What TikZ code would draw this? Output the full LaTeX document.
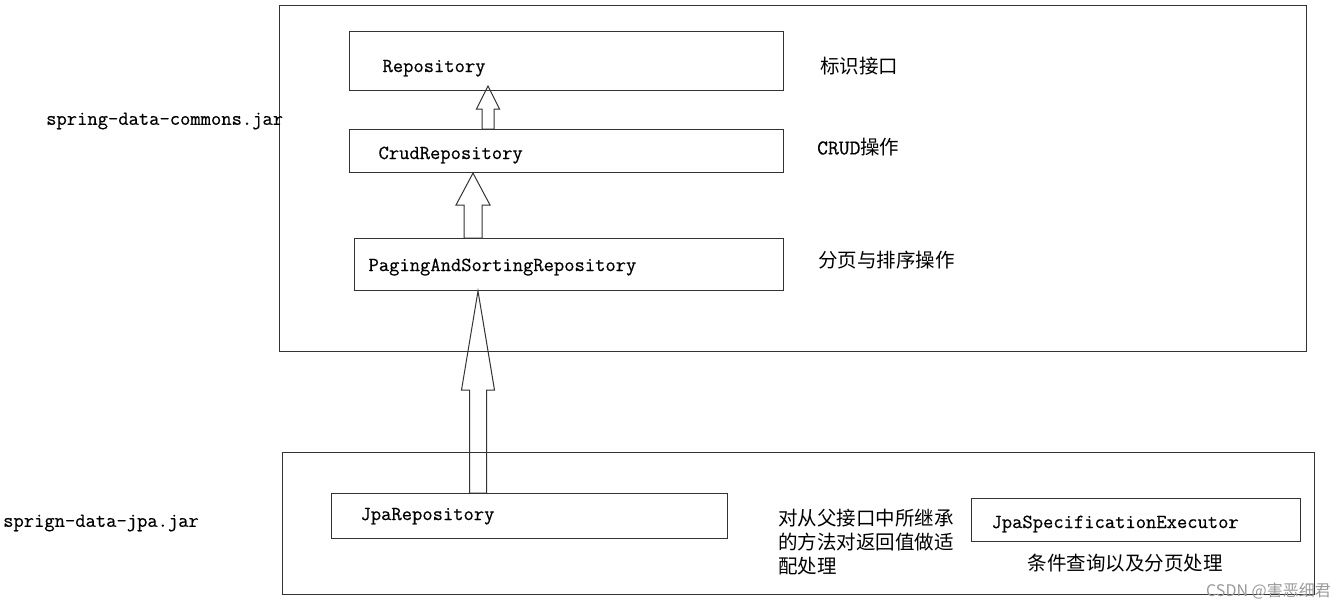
\documentclass[tikz,border=0pt]{standalone}
\usepackage{fontspec}
\newfontfamily\cjkfont{Noto Sans CJK SC}
\newfontfamily\codefont[FakeBold=0.5]{Latin Modern Mono}
\usetikzlibrary{calc}

\tikzset{
  jarbox/.style={draw=black!80, line width=1.1pt, anchor=north west, inner sep=0pt},
  ifacebox/.style={draw=black!80, line width=1.1pt, anchor=north west, align=left, inner ysep=0pt, text depth=0pt, font=\codefont\fontsize{20}{20}\selectfont},
  note/.style={anchor=west, inner sep=0pt, font=\cjkfont\fontsize{19.5}{24}\selectfont},
  jarlabel/.style={anchor=west, inner sep=0pt, font=\codefont\fontsize{20}{20}\selectfont},
  hollow/.style={draw=black!80, line width=1pt, line join=miter},
}

\begin{document}
\begin{tikzpicture}[x=1pt, y=-1pt]
      \useasboundingbox (0,0) rectangle (1341,610);
      % the two jars
      \node (commons) [jarbox, minimum width=1027pt, minimum height=346pt] at (279,5) {};
      \node (jpajarbox) [jarbox, minimum width=1032pt, minimum height=142pt] at (282,452) {};
      \node (commonsjar) [jarlabel] at (46,121) {spring-data-commons.jar};
      \node (jpajar) [jarlabel] at (3,523) {sprign-data-jpa.jar};
      % interfaces
      \node (repo) [ifacebox, minimum height=59pt, text width=368pt, inner xsep=33pt, text height=22pt] at (349,31) {Repository};
      \node (crud) [ifacebox, minimum height=43pt, text width=376pt, inner xsep=29pt, text height=16pt] at (349,129) {CrudRepository};
      \node (paging) [ifacebox, minimum height=52pt, text width=401pt, inner xsep=14pt, text height=13pt] at (354,238) {PagingAndSortingRepository};
      \node (jpa) [ifacebox, minimum height=45pt, text width=338pt, inner xsep=29pt, text height=8pt] at (331,493) {JpaRepository};
      \node (spec) [ifacebox, minimum height=43pt, text width=289pt, inner xsep=20pt, text height=16pt] at (971,498) {JpaSpecificationExecutor};
      % notes
      \node (tagnote) [note] at (820,66) {标识接口};
      \node (crudnote) [note] at (817,147) {{\codefont\fontsize{21}{21}\selectfont CRUD}操作};
      \node (pagenote) [note] at (818,260) {分页与排序操作};
      \node (jpanote) [note, align=left] at (778,542) {对从父接口中所继承\\的方法对返回值做适\\配处理};
      \node (specnote) [note, anchor=center] at (1125,563) {条件查询以及分页处理};
      \node (mark) [anchor=east, inner sep=0pt, text=black!40, font=\cjkfont\fontsize{16}{16}\selectfont] at (1331,591) {CSDN @害恶细君};
      % inheritance arrows
      \draw [hollow] (482,0 |- crud.north) -- (482,109) -- (476.5,109) -- ($(488,0 |- repo.south)+(0,-5)$)
        -- (499.5,109) -- (494,109) -- (494,0 |- crud.north) -- cycle;
      \draw [hollow] (464,0 |- paging.north) -- (464,205) -- (456,205) -- (473,0 |- crud.south)
        -- (490,205) -- (482,205) -- (482,0 |- paging.north) -- cycle;
      \draw [hollow] (469.5,0 |- jpa.north) -- (469.5,390) -- (461.5,390) -- (478,0 |- paging.south)
        -- (494.5,390) -- (486.5,390) -- (486.5,0 |- jpa.north) -- cycle;
\end{tikzpicture}
\end{document}
